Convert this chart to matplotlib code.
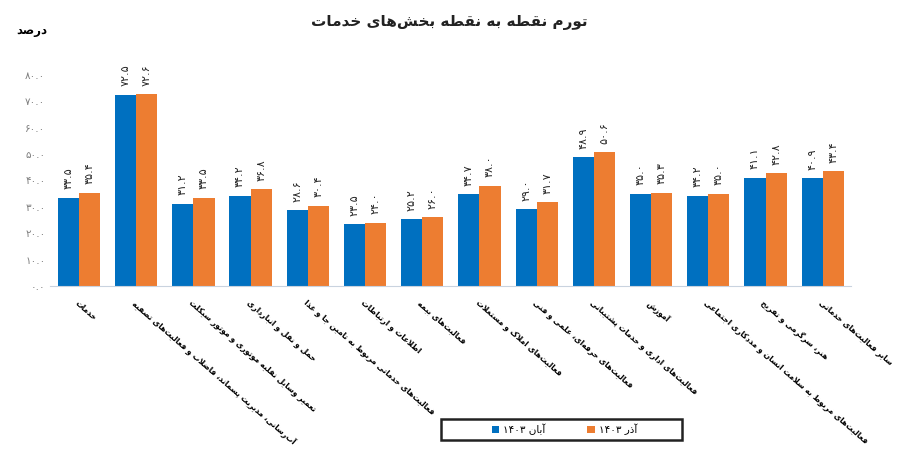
import re
import matplotlib
matplotlib.use('Agg')
import matplotlib.pyplot as plt
import matplotlib.patches as mpatches
import numpy as np

plt.rcParams['font.family'] = ['DejaVu Sans']

# ---- data ----
categories = [
    'خدمات',
    'آب‌رسانی، مدیریت پسماند، فاضلاب و فعالیت‌های تصفیه',
    'تعمیر وسایل نقلیه موتوری و موتور سیکلت',
    'حمل و نقل و انبارداری',
    'فعالیت‌های خدماتی مربوط به تامین جا و غذا',
    'اطلاعات و ارتباطات',
    'فعالیت‌های بیمه',
    'فعالیت‌های املاک و مستغلات',
    'فعالیت‌های حرفه‌ای، علمی و فنی',
    'فعالیت‌های اداری و خدمات پشتیبانی',
    'آموزش',
    'فعالیت‌های مربوط به سلامت انسان و مددکاری اجتماعی',
    'هنر، سرگرمی و تفریح',
    'سایر فعالیت‌های خدماتی',
]
aban_1403 = [33.5, 72.5, 31.2, 34.2, 28.6, 23.5, 25.2, 34.7, 29.0, 48.9, 35.0, 34.2, 41.1, 40.9]
azar_1403 = [35.4, 72.6, 33.5, 36.8, 30.4, 24.0, 26.0, 38.0, 31.7, 50.6, 35.3, 35.0, 42.8, 43.4]
series_names = ['آبان ۱۴۰۳', 'آذر ۱۴۰۳']
title = 'تورم نقطه به نقطه بخش‌های خدمات'
unit = 'درصد'
yticks = np.arange(0, 81, 10)

# ---- minimal persian shaping + bidi (matplotlib has none) ----
FORMS = {  # isolated, final, initial, medial
    'ا': (0xFE8D, 0xFE8E), 'آ': (0xFE81, 0xFE82),
    'ب': (0xFE8F, 0xFE90, 0xFE91, 0xFE92), 'پ': (0xFB56, 0xFB57, 0xFB58, 0xFB59),
    'ت': (0xFE95, 0xFE96, 0xFE97, 0xFE98), 'ث': (0xFE99, 0xFE9A, 0xFE9B, 0xFE9C),
    'ج': (0xFE9D, 0xFE9E, 0xFE9F, 0xFEA0), 'چ': (0xFB7A, 0xFB7B, 0xFB7C, 0xFB7D),
    'ح': (0xFEA1, 0xFEA2, 0xFEA3, 0xFEA4), 'خ': (0xFEA5, 0xFEA6, 0xFEA7, 0xFEA8),
    'د': (0xFEA9, 0xFEAA), 'ذ': (0xFEAB, 0xFEAC), 'ر': (0xFEAD, 0xFEAE),
    'ز': (0xFEAF, 0xFEB0), 'ژ': (0xFB8A, 0xFB8B),
    'س': (0xFEB1, 0xFEB2, 0xFEB3, 0xFEB4), 'ش': (0xFEB5, 0xFEB6, 0xFEB7, 0xFEB8),
    'ص': (0xFEB9, 0xFEBA, 0xFEBB, 0xFEBC), 'ض': (0xFEBD, 0xFEBE, 0xFEBF, 0xFEC0),
    'ط': (0xFEC1, 0xFEC2, 0xFEC3, 0xFEC4), 'ظ': (0xFEC5, 0xFEC6, 0xFEC7, 0xFEC8),
    'ع': (0xFEC9, 0xFECA, 0xFECB, 0xFECC), 'غ': (0xFECD, 0xFECE, 0xFECF, 0xFED0),
    'ف': (0xFED1, 0xFED2, 0xFED3, 0xFED4), 'ق': (0xFED5, 0xFED6, 0xFED7, 0xFED8),
    'ک': (0xFB8E, 0xFB8F, 0xFB90, 0xFB91), 'گ': (0xFB92, 0xFB93, 0xFB94, 0xFB95),
    'ل': (0xFEDD, 0xFEDE, 0xFEDF, 0xFEE0), 'م': (0xFEE1, 0xFEE2, 0xFEE3, 0xFEE4),
    'ن': (0xFEE5, 0xFEE6, 0xFEE7, 0xFEE8), 'و': (0xFEED, 0xFEEE),
    'ه': (0xFEE9, 0xFEEA, 0xFEEB, 0xFEEC), 'ی': (0xFBFC, 0xFBFD, 0xFBFE, 0xFBFF),
    'ئ': (0xFE89, 0xFE8A, 0xFE8B, 0xFE8C),
}
LAM_ALEF = {'ا': (0xFEFB, 0xFEFC), 'آ': (0xFEF5, 0xFEF6)}


def shape(s):
    out = []
    i = 0
    prev_joins = False
    while i < len(s):
        c = s[i]
        if c not in FORMS:
            out.append('' if c == '\u200c' else c)
            prev_joins = False
            i += 1
            continue
        nxt = s[i + 1] if i + 1 < len(s) else ''
        if c == 'ل' and nxt in LAM_ALEF:
            out.append(chr(LAM_ALEF[nxt][1 if prev_joins else 0]))
            prev_joins = False
            i += 2
            continue
        f = FORMS[c]
        dual = len(f) == 4
        join_next = dual and nxt in FORMS
        if prev_joins and join_next:
            out.append(chr(f[3]))
        elif prev_joins:
            out.append(chr(f[1]))
        elif join_next:
            out.append(chr(f[2]))
        else:
            out.append(chr(f[0]))
        prev_joins = join_next
        i += 1
    return ''.join(out)


def fa(s):
    s = shape(s)
    runs = re.findall(r'[0-9۰-۹.]+|[^0-9۰-۹.]+', s)
    return ''.join(r if re.match(r'[0-9۰-۹.]', r) else r[::-1] for r in runs[::-1])


def fa_num(v):
    return f'{v:.1f}'.translate(str.maketrans('0123456789', '۰۱۲۳۴۵۶۷۸۹'))


# ---- plot ----
fig = plt.figure(figsize=(8.99, 4.62), dpi=100)
ax = fig.add_axes([0.056, 0.381, 0.891, 0.457])

x = np.arange(len(categories))
w = 0.37
b1 = ax.bar(x - w / 2, aban_1403, w, color='#0070C0', label=fa(series_names[0]))
b2 = ax.bar(x + w / 2, azar_1403, w, color='#ED7D31', label=fa(series_names[1]))

for bars, vals in [(b1, aban_1403), (b2, azar_1403)]:
    for rect, v in zip(bars, vals):
        ax.annotate(fa_num(v), (rect.get_x() + rect.get_width() / 2, v),
                    xytext=(0, 6), textcoords='offset points',
                    rotation=90, ha='center', va='bottom', fontsize=8, color='#262626')

ax.set_xlim(-0.5, len(categories) - 0.5)
ax.set_ylim(0, 80)
ax.set_yticks(yticks)
ax.set_yticklabels([fa_num(t) for t in yticks], color='#7f7f7f', fontsize=7.5)
ax.set_xticks(x)
ax.set_xticklabels([fa(c) for c in categories], rotation=-41, ha='left', va='top',
                   rotation_mode='anchor', fontsize=5.6, fontweight='bold')
ax.tick_params(axis='both', length=0)
ax.tick_params(axis='x', pad=9)
for side in ['top', 'right', 'left']:
    ax.spines[side].set_visible(False)
ax.spines['bottom'].set_color('#c9d3df')

fig.text(0.5, 0.952, fa(title), ha='center', va='center', fontsize=11, fontweight='bold', color='#222222')
fig.text(0.035, 0.935, fa(unit), ha='center', va='center', fontsize=8.5, fontweight='bold')

# legend box
fig.patches.append(mpatches.Rectangle((441 / 899, 1 - 440 / 462), 241 / 899, 21 / 462,
                                      transform=fig.transFigure, fill=False,
                                      edgecolor='#222222', linewidth=1.8))
fig.legend(handles=[b1, b2], loc='center', bbox_to_anchor=(0.628, 0.07), ncol=2,
           frameon=False, fontsize=7.5, handlelength=0.7, handleheight=0.7,
           handletextpad=0.4, columnspacing=4.0)

plt.savefig('out.png', dpi=100)
